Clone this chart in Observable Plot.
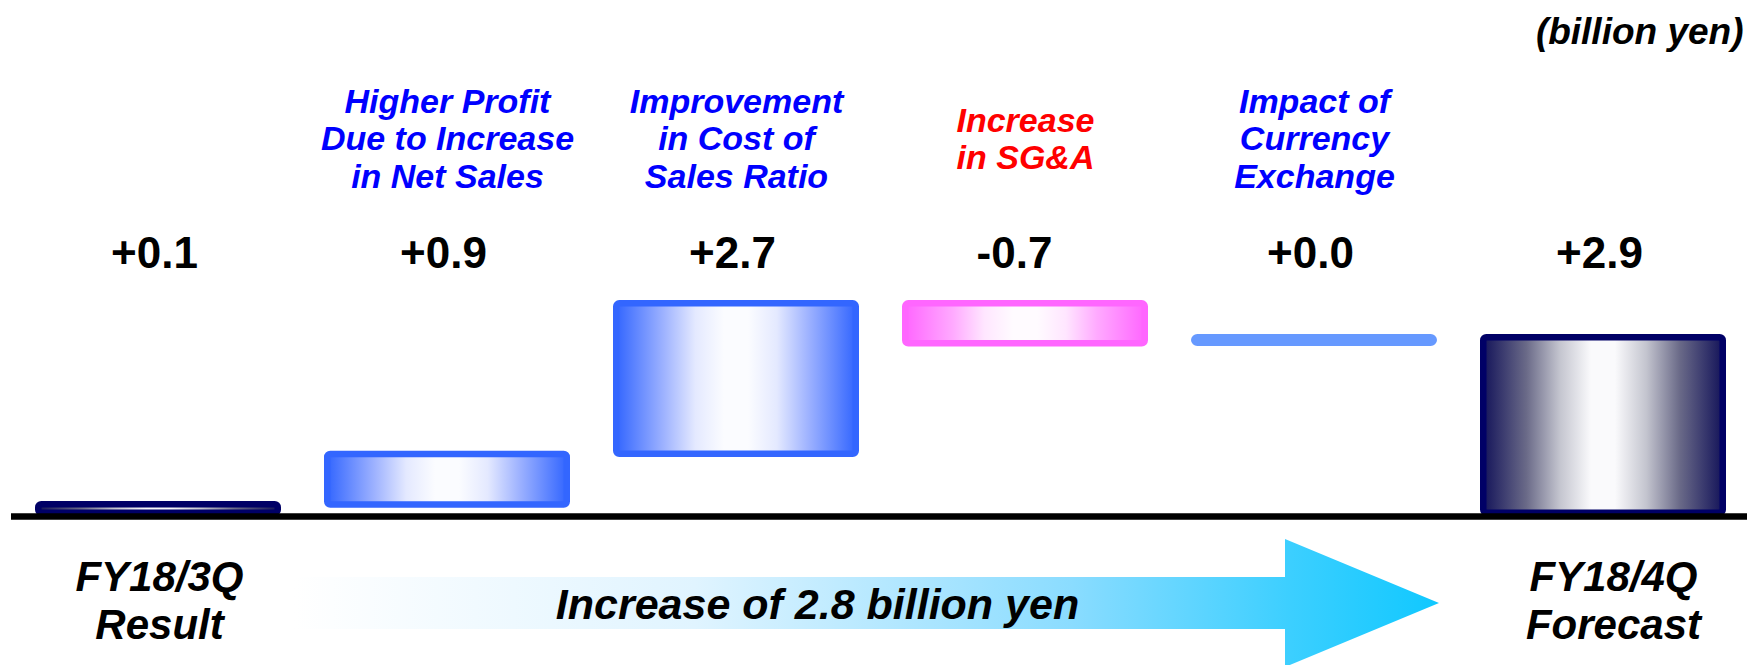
<!DOCTYPE html>
<html>
<head>
<meta charset="utf-8">
<script src="https://cdn.jsdelivr.net/npm/d3@7"></script>
<script src="https://cdn.jsdelivr.net/npm/@observablehq/plot@0.6"></script>
<style>
  html, body { margin: 0; padding: 0; background: #fff; }
  #chart { width: 1747px; height: 665px; }
</style>
</head>
<body>
<div id="chart"></div>
<script>
// ---- data (billion yen) ----
const categories = [
  "FY18/3Q Result",
  "Higher Profit Due to Increase in Net Sales",
  "Improvement in Cost of Sales Ratio",
  "Increase in SG&A",
  "Impact of Currency Exchange",
  "FY18/4Q Forecast"
];
const topLabels = ["", "Higher Profit\nDue to Increase\nin Net Sales", "Improvement\nin Cost of\nSales Ratio", "Increase\nin SG&A", "Impact of\nCurrency\nExchange", ""];
const bottomLabels = ["FY18/3Q\nResult", "", "", "", "", "FY18/4Q\nForecast"];
const changes = [0.1, 0.9, 2.7, -0.7, 0.0, 2.9];
const valueLabels = ["+0.1", "+0.9", "+2.7", "-0.7", "+0.0", "+2.9"];
const barLow  = [0,    0.13, 0.94, 2.70, 2.71, 0];
const barHigh = [0.24, 1.04, 3.44, 3.44, 2.90, 2.90];
const unitLabel = "(billion yen)";
const arrowLabel = "Increase of 2.8 billion yen";

// ---- table built from the arrays ----
const last = categories.length - 1;
const rows = categories.map((c, i) => ({
  cat: c, low: barLow[i], high: barHigh[i], change: changes[i],
  value: valueLabels[i], top: topLabels[i], bottom: bottomLabels[i],
  kind: (i === 0 || i === last) ? "total" : changes[i] > 0 ? "up" : changes[i] < 0 ? "down" : "flat",
  idx: i
}));

const font = "'Liberation Sans', Arial, Helvetica, sans-serif";
const sw = 6.5;
const bar = {x: "cat", y1: "low", y2: "high", strokeWidth: sw, rx: 3,
  insetLeft: sw / 2, insetRight: sw / 2, insetTop: sw / 2, insetBottom: sw / 2};
const bi = {fontWeight: "bold", fontStyle: "italic"};
const vl = {x: "cat", text: "value", frameAnchor: "top", dy: 267, lineAnchor: "bottom",
  fontSize: 44, fontWeight: "bold", fill: "#000"};

const chart = Plot.plot({
  width: 1747, height: 665,
  marginLeft: 32, marginRight: 18, marginTop: 0, marginBottom: 0,
  style: {fontFamily: font, background: "#fff", overflow: "visible"},
  x: {domain: categories, paddingInner: 0.148, paddingOuter: 0, axis: null},
  y: {domain: [0, 2.9], range: [516, 334], axis: null},
  marks: [
    Plot.barY(rows.filter(d => d.kind === "total"), {...bar, fill: "url(#gNavy)", stroke: "#000066"}),
    Plot.barY(rows.filter(d => d.kind === "up"), {...bar, fill: "url(#gBlue)", stroke: "#3366FF"}),
    Plot.barY(rows.filter(d => d.kind === "down"), {...bar, fill: "url(#gPink)", stroke: "#FF66FF"}),
    Plot.barY(rows.filter(d => d.kind === "flat"), {...bar, fill: "#6699FF", stroke: "#6699FF"}),
    Plot.ruleY([0], {stroke: "#000", strokeWidth: 6.5, insetLeft: -21, insetRight: -18}),
    // category labels
    Plot.text(rows.filter(d => d.top && d.change >= 0), {x: "cat", text: "top", frameAnchor: "top", dy: 138,
      lineAnchor: "middle", lineHeight: 1.094, fontSize: 34, ...bi, fill: "#0000FF"}),
    Plot.text(rows.filter(d => d.top && d.change < 0), {x: "cat", text: "top", frameAnchor: "top", dy: 138,
      lineAnchor: "middle", lineHeight: 1.094, fontSize: 34, ...bi, fill: "#FF0000"}),
    // value labels
    Plot.text(rows.filter(d => d.change >= 0), {...vl, dx: -4}),
    Plot.text(rows.filter(d => d.change < 0), {...vl, dx: -11}),
    // bottom labels
    Plot.text(rows.filter(d => d.idx === 0), {x: "cat", text: "bottom", frameAnchor: "top", dy: 638, dx: 1,
      lineAnchor: "bottom", lineHeight: 1.143, fontSize: 42, ...bi, fill: "#000"}),
    Plot.text(rows.filter(d => d.idx === last), {x: "cat", text: "bottom", frameAnchor: "top", dy: 638, dx: 10,
      lineAnchor: "bottom", lineHeight: 1.143, fontSize: 42, ...bi, fill: "#000"}),
    // unit
    Plot.text([unitLabel], {text: d => d, frameAnchor: "top-right", dx: 14, dy: 43, lineAnchor: "bottom",
      textAnchor: "end", fontSize: 37, ...bi, fill: "#000"})
  ]
});

const svg = d3.select(chart);
const defs = svg.insert("defs", ":first-child");
function grad(id, stops) {
  const g = defs.append("linearGradient").attr("id", id)
    .attr("x1", "0").attr("x2", "1").attr("y1", "0").attr("y2", "0");
  stops.forEach(([o, c]) => g.append("stop").attr("offset", o).attr("stop-color", c));
}
grad("gBlue", [[0, "#3366FF"], [0.2, "#9fb3ff"], [0.33, "#e4e9ff"], [0.45, "#fbfcff"], [0.55, "#fbfcff"], [0.67, "#e4e9ff"], [0.8, "#9fb3ff"], [1, "#3366FF"]]);
grad("gPink", [[0, "#FF66FF"], [0.2, "#ffaaff"], [0.33, "#ffe6ff"], [0.45, "#fffbff"], [0.55, "#fffbff"], [0.67, "#ffe6ff"], [0.8, "#ffaaff"], [1, "#FF66FF"]]);
grad("gNavy", [[0, "#14145a"], [0.18, "#6a6a88"], [0.32, "#c4c5cf"], [0.45, "#fafafc"], [0.55, "#fafafc"], [0.68, "#c4c5cf"], [0.82, "#6a6a88"], [1, "#14145a"]]);
grad("gArrow", [[0, "#ffffff"], [0.35, "#e0f4ff"], [0.68, "#8adcff"], [0.87, "#3ccfff"], [1, "#10c8ff"]]);

// arrow annotation positioned from the x scale
const xs = chart.scale("x");
const bw = xs.bandwidth;
const tip = xs.apply(categories[4]) + bw + 2;
const headBase = tip - 154;
const bodyStart = xs.apply(categories[1]) - 30;
const cy = 603, bh = 26, hh = 64;
const g = svg.append("g");
g.append("path")
  .attr("d", `M${bodyStart},${cy - bh}L${headBase},${cy - bh}L${headBase},${cy - hh}L${tip},${cy}L${headBase},${cy + hh}L${headBase},${cy + bh}L${bodyStart},${cy + bh}Z`)
  .attr("fill", "url(#gArrow)");
g.append("text")
  .attr("x", (bodyStart + headBase) / 2 + 28)
  .attr("y", 619)
  .attr("text-anchor", "middle")
  .attr("font-size", 43)
  .attr("font-weight", "bold")
  .attr("font-style", "italic")
  .attr("fill", "#000")
  .text(arrowLabel);

document.getElementById("chart").appendChild(chart);
</script>
</body>
</html>
